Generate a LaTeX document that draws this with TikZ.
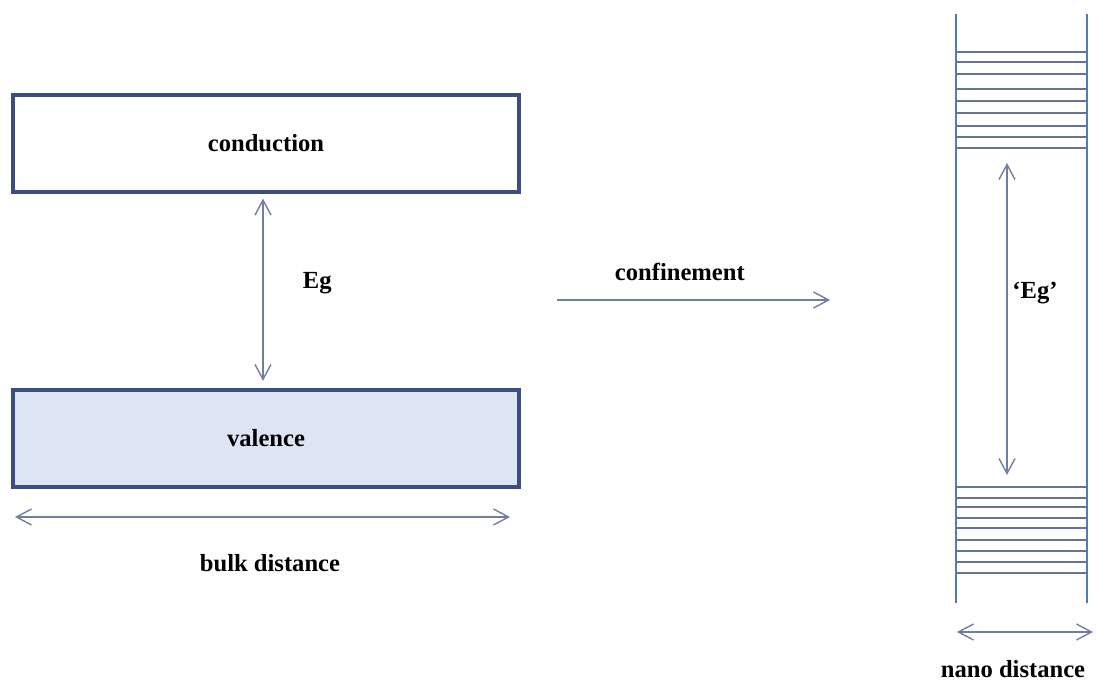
\documentclass[tikz,border=0pt]{standalone}
\usepackage{fontspec}
\setmainfont{Liberation Serif}
\usepackage{tikz}
\usetikzlibrary{positioning, arrows.meta, calc}
\definecolor{bg-navy}{RGB}{58,78,132}
\definecolor{bg-fill}{RGB}{220,229,243}
\definecolor{bg-arrow}{RGB}{112,126,162}
\definecolor{bg-wall}{RGB}{82,122,186}
\definecolor{bg-level}{RGB}{104,114,152}
\tikzset{
  bg@band/.style={
    draw=bg-navy, line width=1.8pt, fill=white,
    minimum width=10.12cm, minimum height=1.94cm,
    font=\fontsize{14}{16}\selectfont\bfseries
  },
  bg@arr/.style={{Straight Barb[length=3mm,width=3.2mm]}-{Straight Barb[length=3mm,width=3.2mm]},
    line width=0.8pt, bg-arrow},
  bg@one/.style={-{Straight Barb[length=3mm,width=3.2mm]}, line width=0.8pt, bg-arrow},
  bg@lbl/.style={font=\fontsize{14}{16}\selectfont\bfseries, text=black, inner sep=1pt},
  bg@wall/.style={line width=1.2pt, bg-wall},
  bg@lvl/.style={line width=0.6pt, bg-level},
}
\begin{document}
\begin{tikzpicture}
  \useasboundingbox (0,0) rectangle (22.28,13.64);

  % bulk bands
  \node[bg@band] (cond) at (5.32,10.77) {conduction};
  \node[bg@band, fill=bg-fill] (val) at (5.32,4.87) {valence};

  \draw[bg@arr, shorten <=0.1cm, shorten >=0.15cm] ([xshift=-0.06cm]cond.south) --
    node[bg@lbl, right=0.75cm, pos=0.46] (eg) {Eg} ([xshift=-0.06cm]val.north);

  \coordinate (bulkL) at (0.3,3.3);
  \coordinate (bulkR) at (10.2,3.3);
  \draw[bg@arr] (bulkL) -- (bulkR);
  \node[bg@lbl] (bulk) at (5.4,2.38) {bulk distance};

  % confinement
  \coordinate (confL) at (11.14,7.64);
  \coordinate (confR) at (16.6,7.64);
  \draw[bg@one] (confL) -- (confR);
  \node[bg@lbl, above=0.35cm of $(confL)!0.45!(confR)$] (conf) {confinement};

  % nano column
  \coordinate (wallLT) at (19.12,13.36);
  \coordinate (wallLB) at (19.12,1.58);
  \coordinate (wallRT) at (21.74,13.36);
  \coordinate (wallRB) at (21.74,1.58);
  \draw[bg@wall] (wallLT) -- (wallLB);
  \draw[bg@wall] (wallRT) -- (wallRB);
  \foreach \y in {12.6,12.4,12.16,11.86,11.62,11.38,11.12,10.9,10.68,
                  3.9,3.68,3.5,3.28,3.08,2.84,2.62,2.4,2.18}
    \draw[bg@lvl] (19.12,\y) -- (21.74,\y);

  \coordinate (gapT) at (20.14,10.38);
  \coordinate (gapB) at (20.14,4.14);
  \draw[bg@arr] (gapT) -- (gapB);
  \node[bg@lbl] (egq) at (20.7,7.78) {`Eg'};

  \coordinate (nanoL) at (19.14,1.0);
  \coordinate (nanoR) at (21.86,1.0);
  \draw[bg@arr] (nanoL) -- (nanoR);
  \node[bg@lbl] (nano) at (20.26,0.26) {nano distance};
\end{tikzpicture}
\end{document}
